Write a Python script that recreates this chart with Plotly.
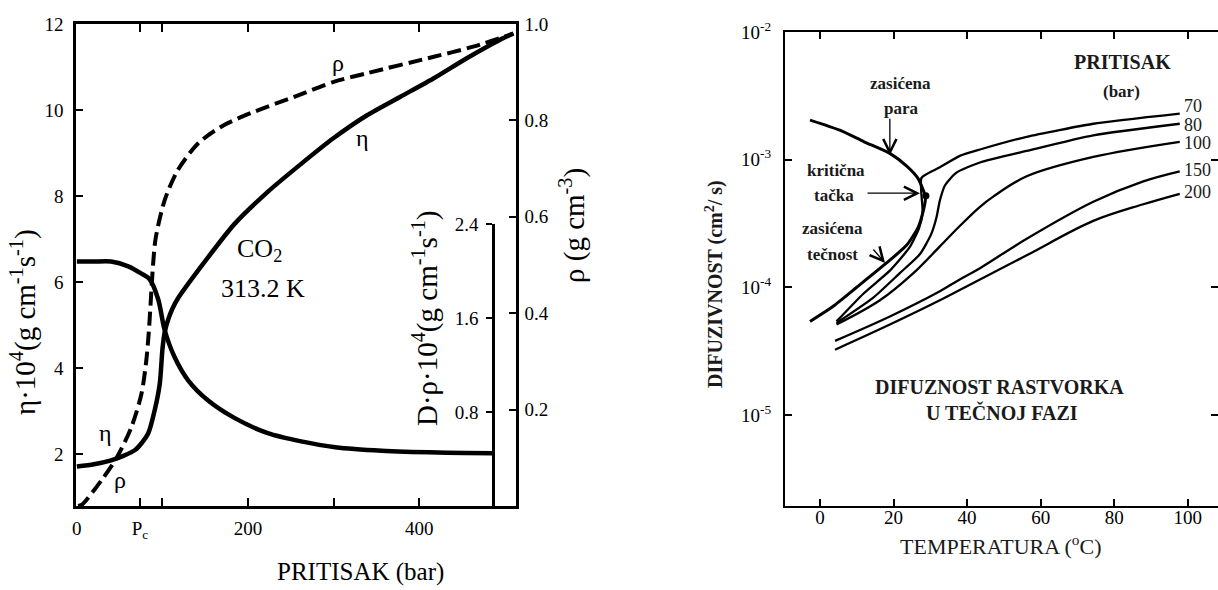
import math
import plotly.graph_objects as go

FONT = "Liberation Serif"
W, H = 1218, 590

# ---------- CO2 at 313.2 K : properties versus pressure ----------
p_eta = [0, 20, 40, 55, 68, 76, 83.4, 91, 96.9, 100, 102.7, 107, 112, 118, 145, 184, 223,
         262, 300, 339, 378, 417, 455, 494, 510]
eta = [1.72, 1.77, 1.86, 1.97, 2.10, 2.27, 2.49, 3.03, 3.65, 4.45, 4.85, 5.15, 5.40, 5.62,
       6.36, 7.35, 8.10, 8.75, 9.35, 9.88, 10.31, 10.74, 11.2, 11.63, 11.78]

p_rho = [1.5, 6, 29, 46.5, 64, 75.6, 81, 84, 86.5, 89, 92, 102.7, 118, 141.5, 168.6, 203,
         254, 300, 339, 417, 463, 510]
rho = [0.0, 0.003, 0.054, 0.10, 0.165, 0.234, 0.30, 0.36, 0.43, 0.50, 0.555, 0.635, 0.697,
       0.752, 0.787, 0.815, 0.849, 0.88, 0.898, 0.932, 0.953, 0.98]

p_drho = [0, 20, 40, 60, 75, 85, 95, 102.5, 114, 130, 153, 184, 223, 262, 302, 356, 422, 486]
drho = [2.08, 2.08, 2.08, 2.04, 1.98, 1.93, 1.76, 1.50, 1.27, 1.07, 0.90, 0.75, 0.62, 0.55,
        0.50, 0.47, 0.455, 0.45]

p_ticks = [0, 73.8, 100, 200, 300, 400]
p_ticktext = ["0", "P<sub>c</sub>", "", "200", "", "400"]
eta_ticks = [2, 4, 6, 8, 10, 12]
rho_ticks = [0.2, 0.4, 0.6, 0.8, 1.0]
rho_ticktext = ["0.2", "0.4", "0.6", "0.8", "1.0"]
drho_ticks = [0.8, 1.6, 2.4]

# ---------- solute diffusivity in CO2 versus temperature ----------
t_sat = [-2.7, 5.4, 12, 19, 23.6, 26.7, 28.1, 28.7, 28.1, 26.7, 23.6, 18.1, 10, 3.6, -2.7]
d_sat = [2.04e-3, 1.70e-3, 1.38e-3, 1.12e-3, 8.9e-4, 7.1e-4, 5.75e-4, 5.13e-4, 3.98e-4,
         2.95e-4, 2.14e-4, 1.55e-4, 1.0e-4, 7.1e-5, 5.4e-5]

t_crit = [28.8]
d_crit = [5.2e-4]

t_70 = [4.5, 11.8, 19, 24.3, 26.9, 27.9, 27.6, 32.6, 38, 43.5, 56.2, 74.3, 97.8]
d_70 = [5.4e-5, 8.9e-5, 1.35e-4, 2.04e-4, 2.88e-4, 3.89e-4, 7.2e-4, 8.7e-4, 1.07e-3,
        1.20e-3, 1.51e-3, 1.91e-3, 2.29e-3]

t_80 = [4.5, 14.5, 21.7, 27.2, 30.3, 31.7, 32.6, 34, 37.1, 43.5, 56.2, 74.3, 97.8]
d_80 = [5.25e-5, 8.3e-5, 1.29e-4, 1.82e-4, 2.63e-4, 3.55e-4, 4.79e-4, 6.3e-4, 7.9e-4,
        9.5e-4, 1.17e-3, 1.55e-3, 1.91e-3]

t_100 = [4.5, 16.3, 25.4, 32.6, 38, 43.5, 47.1, 56.2, 74.3, 97.8]
d_100 = [5.1e-5, 7.9e-5, 1.29e-4, 2.09e-4, 3.02e-4, 4.27e-4, 5.13e-4, 7.4e-4, 1.05e-3, 1.38e-3]

t_150 = [4.1, 19, 32.6, 38, 43.5, 56.2, 74.3, 87.9, 97.8]
d_150 = [3.8e-5, 5.9e-5, 9.3e-5, 1.15e-4, 1.41e-4, 2.40e-4, 4.68e-4, 6.76e-4, 8.1e-4]

t_200 = [4.1, 19, 32.6, 38, 43.5, 56.2, 74.3, 87.9, 97.8]
d_200 = [3.24e-5, 5.1e-5, 7.9e-5, 9.5e-5, 1.15e-4, 1.78e-4, 3.31e-4, 4.47e-4, 5.4e-4]

pressures = ["70", "80", "100", "150", "200"]
pressure_label_y = [2.63e-3, 1.86e-3, 1.35e-3, 8.3e-4, 5.6e-4]

t_ticks = [0, 20, 40, 60, 80, 100]
d_ticks = [1e-5, 1e-4, 1e-3, 1e-2]
d_ticktext = ["10<sup>-5</sup>", "10<sup>-4</sup>", "10<sup>-3</sup>", "10<sup>-2</sup>"]


def px(x):
    return x / W


def py(y):
    return 1 - y / H


fig = go.Figure()


def curve(x, y, xa, ya, width, dash="solid", smoothing=0.8):
    fig.add_trace(go.Scatter(
        x=x, y=y, xaxis=xa, yaxis=ya, mode="lines", hoverinfo="skip", showlegend=False,
        line=dict(color="black", width=width, dash=dash, shape="spline", smoothing=smoothing),
    ))


# left: viscosity, density (dashed) and D·rho
curve(p_eta, eta, "x", "y", 4.5, smoothing=0.7)
curve(p_rho, rho, "x", "y2", 4, dash="14px,6px")
curve(p_drho, drho, "x", "y3", 4.5)

# right: saturation envelope and isobars
curve(t_sat, d_sat, "x2", "y4", 3, smoothing=0.6)
curve(t_70, d_70, "x2", "y4", 2.3, smoothing=0.5)
curve(t_80, d_80, "x2", "y4", 2.3, smoothing=0.6)
for t, d in [(t_100, d_100), (t_150, d_150), (t_200, d_200)]:
    curve(t, d, "x2", "y4", 2.3, smoothing=1.0)
fig.add_trace(go.Scatter(x=t_crit, y=d_crit, xaxis="x2", yaxis="y4", mode="markers",
                         hoverinfo="skip", showlegend=False,
                         marker=dict(color="black", size=7)))

tick_font = dict(family=FONT, size=19, color="black")
base = dict(showgrid=False, zeroline=False, showline=True, linecolor="black",
            tickcolor="black", tickfont=tick_font, automargin=False)

bottom = py(506)

fig.update_layout(
    width=W, height=H, margin=dict(l=0, r=0, t=0, b=0, autoexpand=False),
    paper_bgcolor="white", plot_bgcolor="rgba(0,0,0,0)",
    showlegend=False,
    xaxis=dict(**base, domain=[px(76), px(516)], range=[-1, 513], anchor="y",
               linewidth=2.5, tickwidth=2, ticks="inside", ticklen=8, mirror="ticks",
               tickvals=p_ticks, ticktext=p_ticktext, ticklabelstandoff=3),
    yaxis=dict(**base, domain=[bottom, py(24)], range=[0.8, 12], anchor="x",
               linewidth=2.5, tickwidth=2, ticks="inside", ticklen=7,
               tickvals=eta_ticks, ticklabelstandoff=6),
    yaxis2=dict(**base, overlaying="y", side="right", anchor="x", range=[0, 1.0],
                linewidth=2.5, tickwidth=2, ticks="inside", ticklen=7,
                tickvals=rho_ticks, ticktext=rho_ticktext, ticklabelstandoff=2),
    yaxis3=dict(**base, domain=[bottom, py(224)], range=[0, 2.4], anchor="free",
                position=px(493), side="left", linewidth=2.5, tickwidth=2,
                ticks="outside", ticklen=6, tickvals=drho_ticks, ticklabelstandoff=4),
    xaxis2=dict(**base, domain=[px(785), 1.0], range=[-9.5, 108.2], anchor="y4",
                linewidth=2, tickwidth=1.5, ticks="inside", ticklen=7, mirror="ticks",
                tickvals=t_ticks, ticklabelstandoff=-7),
    yaxis4=dict(**base, type="log", domain=[bottom, py(32)], range=[-5.714, -2.0],
                anchor="x2", linewidth=2, tickwidth=1.5, ticks="inside", ticklen=7,
                mirror="ticks", tickvals=d_ticks, ticktext=d_ticktext,
                ticklabelstandoff=8),
)


def text(x, y, s, size, xref="paper", yref="paper", angle=0, xanchor="center",
         bold=False, color="black"):
    fig.add_annotation(x=x, y=y, xref=xref, yref=yref, text=f"<b>{s}</b>" if bold else s,
                       showarrow=False, textangle=angle, xanchor=xanchor, yanchor="middle",
                       font=dict(family=FONT, size=size, color=color))


# left panel titles and labels
text(px(360), py(572), "PRITISAK (bar)", 25)
text(px(24), py(322), "η·10<sup>4</sup>(g cm<sup>-1</sup>s<sup>-1</sup>)", 29, angle=-90)
text(px(425), py(318), "D·ρ·10<sup>4</sup>(g cm<sup>-1</sup>s<sup>-1</sup>)", 29, angle=-90)
text(px(573), py(226), "ρ (g cm<sup>-3</sup>)", 29, angle=-90)
text(305, 0.92, "ρ", 24, xref="x", yref="y2")
text(334, 9.35, "η", 24, xref="x", yref="y")
text(213, 6.75, "CO<sub>2</sub>", 26, xref="x", yref="y")
text(217, 5.86, "313.2 K", 26, xref="x", yref="y")
text(33, 2.5, "η", 24, xref="x", yref="y")
text(50, 1.4, "ρ", 24, xref="x", yref="y")

# right panel titles and labels
dark = "#1a1a1a"
text(px(1000), py(545), "TEMPERATURA (<sup>o</sup>C)", 22, color=dark)
text(px(714), py(284), "DIFUZIVNOST (cm<sup>2</sup>/ s)", 20, angle=-90, bold=True, color=dark)
text(82.3, -2.235, "PRITISAK", 20, xref="x2", yref="y4", bold=True, color=dark)
text(82.1, -2.47, "(bar)", 17, xref="x2", yref="y4", bold=True, color=dark)
text(22, -2.40, "zasićena", 17, xref="x2", yref="y4", bold=True, color=dark)
text(22.3, -2.596, "para", 17, xref="x2", yref="y4", bold=True, color=dark)
text(4.3, -3.082, "kritična", 17, xref="x2", yref="y4", bold=True, color=dark)
text(3.8, -3.278, "tačka", 17, xref="x2", yref="y4", bold=True, color=dark)
text(3.5, -3.537, "zasićena", 17, xref="x2", yref="y4", bold=True, color=dark)
text(3.3, -3.741, "tečnost", 17, xref="x2", yref="y4", bold=True, color=dark)
text(48.9, -4.784, "DIFUZNOST RASTVORKA", 20, xref="x2", yref="y4", bold=True, color=dark)
text(49.5, -4.98, "U TEČNOJ FAZI", 20, xref="x2", yref="y4", bold=True, color=dark)

for label, yv in zip(pressures, pressure_label_y):
    text(98.3, math.log10(yv), label, 18, xref="x2", yref="y4", xanchor="left", color=dark)

# pointer arrows onto the saturation envelope
for hx, hy, ax, ay in [(19.0, -2.965, 0, -38), (27.2, -3.263, -54, 0), (17.7, -3.81, -13, -15)]:
    fig.add_annotation(x=hx, y=hy, xref="x2", yref="y4", ax=ax, ay=ay, text="",
                       showarrow=True, arrowhead=5, arrowsize=2, arrowwidth=1.3,
                       arrowcolor="black")

fig.write_html("out.html")
